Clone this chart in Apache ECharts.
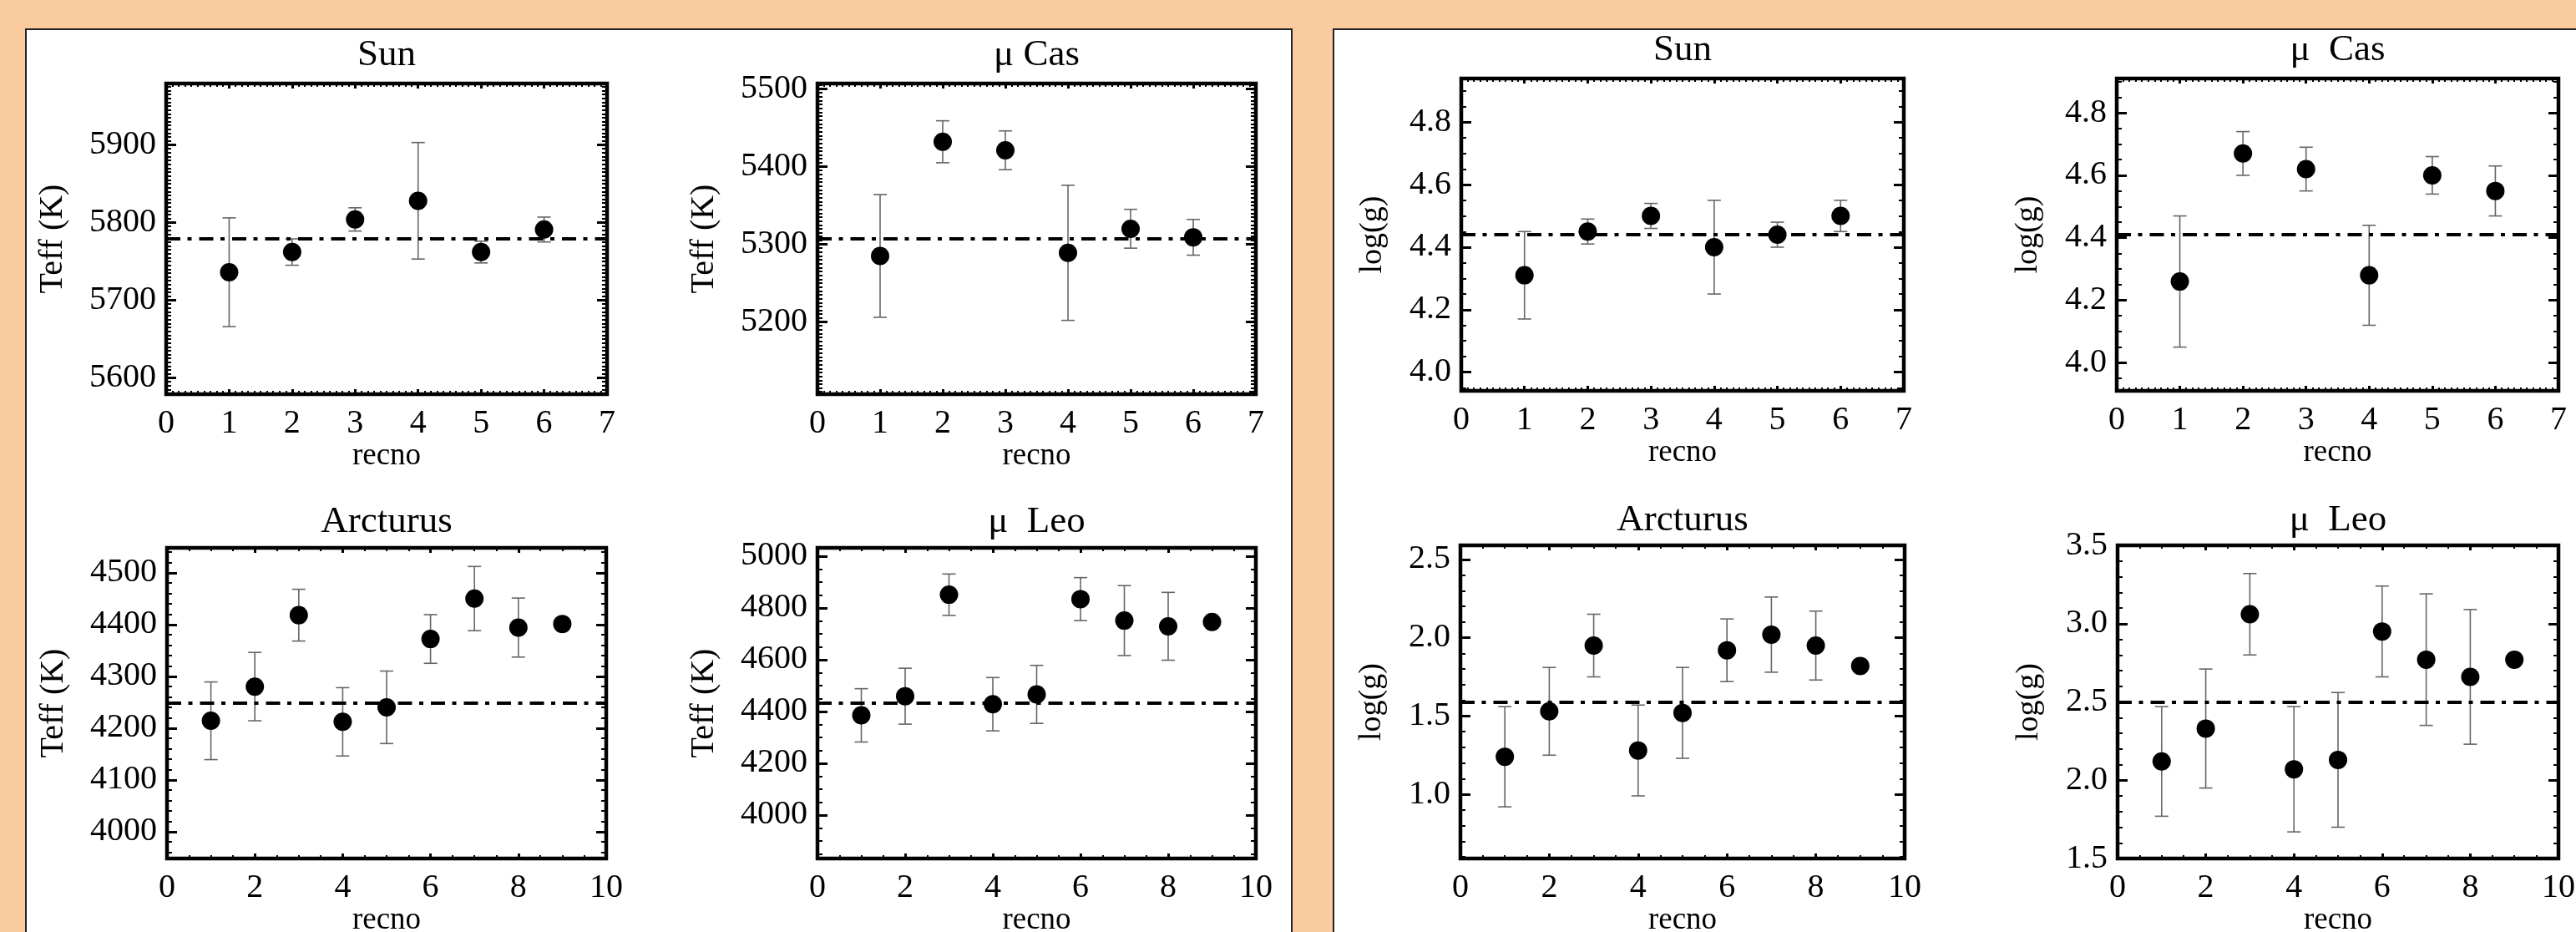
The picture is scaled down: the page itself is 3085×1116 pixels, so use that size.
<!DOCTYPE html>
<html>
<head>
<meta charset="utf-8">
<script src="https://cdn.jsdelivr.net/npm/echarts@6/dist/echarts.min.js"></script>
<style>
  html, body { margin: 0; padding: 0; background: #f9cb9f; }
  #chart { width: 3085px; height: 1116px; }
</style>
</head>
<body>
<div id="chart"></div>
<script>
// ---------------- DATA ----------------
const starNames = ['Sun', 'μ Cas', 'Arcturus', 'μ  Leo'];
const starNamesLogg = ['Sun', 'μ  Cas', 'Arcturus', 'μ  Leo'];

const recno6 = [1, 2, 3, 4, 5, 6];
const recno9 = [1, 2, 3, 4, 5, 6, 7, 8, 9];

// Teff (K)
const teffSun      = [5736, 5762, 5804, 5828, 5762, 5791];
const teffSunErr   = [70, 17, 15, 75, 14, 16];
const teffMuCas    = [5285, 5432, 5421, 5289, 5320, 5309];
const teffMuCasErr = [79, 27, 25, 87, 25, 23];
const teffArct     = [4214, 4280, 4418, 4212, 4240, 4372, 4450, 4394, 4401];
const teffArctErr  = [75, 66, 50, 66, 70, 47, 62, 57, null];
const teffMuLeo    = [4385, 4459, 4851, 4428, 4466, 4834, 4751, 4729, 4746];
const teffMuLeoErr = [103, 108, 80, 103, 112, 83, 135, 131, null];
const teffRef      = [5779, 5307, 4248, 4432];
const teffRange    = [[5579, 5979], [5107, 5507], [3948, 4548], [3832, 5032]];

// log(g)
const loggSun      = [4.31, 4.45, 4.50, 4.40, 4.44, 4.50];
const loggSunErr   = [0.14, 0.04, 0.04, 0.15, 0.04, 0.05];
const loggMuCas    = [4.26, 4.67, 4.62, 4.28, 4.60, 4.55];
const loggMuCasErr = [0.21, 0.07, 0.07, 0.16, 0.06, 0.08];
const loggArct     = [1.24, 1.53, 1.95, 1.28, 1.52, 1.92, 2.02, 1.95, 1.82];
const loggArctErr  = [0.32, 0.28, 0.20, 0.29, 0.29, 0.20, 0.24, 0.22, null];
const loggMuLeo    = [2.12, 2.33, 3.06, 2.07, 2.13, 2.95, 2.77, 2.66, 2.77];
const loggMuLeoErr = [0.35, 0.38, 0.26, 0.40, 0.43, 0.29, 0.42, 0.43, null];
const loggRef      = [4.44, 4.41, 1.59, 2.50];
const loggRange    = [[3.94, 4.94], [3.91, 4.91], [0.59, 2.59], [1.50, 3.50]];

// tick labels
const xTicks7 = [0, 1, 2, 3, 4, 5, 6, 7];
const xTicks10 = [0, 2, 4, 6, 8, 10];
const teffTicksSun = [5600, 5700, 5800, 5900];
const teffTicksMuCas = [5200, 5300, 5400, 5500];
const teffTicksArct = [4000, 4100, 4200, 4300, 4400, 4500];
const teffTicksMuLeo = [4000, 4200, 4400, 4600, 4800, 5000];
const loggTicksSun = [4.0, 4.2, 4.4, 4.6, 4.8];
const loggTicksMuCas = [4.0, 4.2, 4.4, 4.6, 4.8];
const loggTicksArct = [1.0, 1.5, 2.0, 2.5];
const loggTicksMuLeo = [1.5, 2.0, 2.5, 3.0, 3.5];

// ---------------- LAYOUT / STYLE ----------------
const FONT = 'Liberation Serif';
const panels = [
  { title: starNames[0], yName: 'Teff (K)', x: recno6, y: teffSun, err: teffSunErr, ref: teffRef[0], yr: teffRange[0], yTicks: teffTicksSun, yMinor: 5, xTicks: xTicks7, xMinor: 0.1, xMax: 7, dec: 0,
    grid: { left: 199, top: 100, width: 528, height: 372 }, titleY: 44, nameGap: 116, nameSize: 40 },
  { title: starNames[1], yName: 'Teff (K)', x: recno6, y: teffMuCas, err: teffMuCasErr, ref: teffRef[1], yr: teffRange[1], yTicks: teffTicksMuCas, yMinor: 5, xTicks: xTicks7, xMinor: 0.1, xMax: 7, dec: 0,
    grid: { left: 979, top: 100, width: 525, height: 372 }, titleY: 44, nameGap: 116, nameSize: 40 },
  { title: starNames[2], yName: 'Teff (K)', x: recno9, y: teffArct, err: teffArctErr, ref: teffRef[2], yr: teffRange[2], yTicks: teffTicksArct, yMinor: 20, xTicks: xTicks10, xMinor: 0.5, xMax: 10, dec: 0,
    grid: { left: 200, top: 656, width: 526, height: 372 }, titleY: 603, nameGap: 116, nameSize: 40 },
  { title: starNames[3], yName: 'Teff (K)', x: recno9, y: teffMuLeo, err: teffMuLeoErr, ref: teffRef[3], yr: teffRange[3], yTicks: teffTicksMuLeo, yMinor: 50, xTicks: xTicks10, xMinor: 0.5, xMax: 10, dec: 0,
    grid: { left: 979, top: 656, width: 525, height: 372 }, titleY: 603, nameGap: 116, nameSize: 40 },
  { title: starNamesLogg[0], yName: 'log(g)', x: recno6, y: loggSun, err: loggSunErr, ref: loggRef[0], yr: loggRange[0], yTicks: loggTicksSun, yMinor: 0.05, xTicks: xTicks7, xMinor: 0.1, xMax: 7, dec: 1,
    grid: { left: 1750, top: 94, width: 530, height: 374 }, titleY: 38, nameGap: 87, nameSize: 38 },
  { title: starNamesLogg[1], yName: 'log(g)', x: recno6, y: loggMuCas, err: loggMuCasErr, ref: loggRef[1], yr: loggRange[1], yTicks: loggTicksMuCas, yMinor: 0.05, xTicks: xTicks7, xMinor: 0.1, xMax: 7, dec: 1,
    grid: { left: 2535, top: 94, width: 529, height: 374 }, titleY: 38, nameGap: 87, nameSize: 38 },
  { title: starNamesLogg[2], yName: 'log(g)', x: recno9, y: loggArct, err: loggArctErr, ref: loggRef[2], yr: loggRange[2], yTicks: loggTicksArct, yMinor: 0.1, xTicks: xTicks10, xMinor: 0.5, xMax: 10, dec: 1,
    grid: { left: 1749, top: 653, width: 532, height: 375 }, titleY: 601, nameGap: 87, nameSize: 38 },
  { title: starNamesLogg[3], yName: 'log(g)', x: recno9, y: loggMuLeo, err: loggMuLeoErr, ref: loggRef[3], yr: loggRange[3], yTicks: loggTicksMuLeo, yMinor: 0.1, xTicks: xTicks10, xMinor: 0.5, xMax: 10, dec: 1,
    grid: { left: 2536, top: 653, width: 528, height: 375 }, titleY: 601, nameGap: 87, nameSize: 38 }
];

function stepsIn(min, max, step) {
  const out = [];
  const s = Math.ceil(min / step - 1e-9), e = Math.floor(max / step + 1e-9);
  for (let i = s; i <= e; i++) out.push(+(i * step).toFixed(6));
  return out;
}

function mkAxis(gi, pos, min, max, ticks, len, width, extra) {
  return Object.assign({
    gridIndex: gi, type: 'value', position: pos, min: min, max: max,
    axisLine: { show: false, onZero: false },
    splitLine: { show: false },
    axisTick: { show: true, inside: true, length: len, customValues: ticks,
                lineStyle: { color: '#000', width: width } },
    axisLabel: { show: false }
  }, extra || {});
}

const grids = [], xAxes = [], yAxes = [], series = [], titles = [];
panels.forEach((p, i) => {
  grids.push(Object.assign({ show: true, borderColor: '#000', borderWidth: 4.5, backgroundColor: 'transparent',
    containLabel: false, outerBoundsMode: 'none' }, p.grid));
  const xMin = 0, xMax = p.xMax;
  const xMinorTicks = stepsIn(xMin, xMax, p.xMinor);
  const yMinorTicks = stepsIn(p.yr[0], p.yr[1], p.yMinor);
  const labelStyle = { fontFamily: FONT, fontSize: 40, color: '#000' };
  // x axes
  xAxes.push(mkAxis(i, 'bottom', xMin, xMax, p.xTicks, 6, 3, {
    axisLabel: Object.assign({ show: true, customValues: p.xTicks, margin: 15, formatter: v => String(v) }, labelStyle),
    name: 'recno', nameLocation: 'middle', nameGap: 54,
    nameTextStyle: { fontFamily: FONT, fontSize: 37, color: '#000' }
  }));
  xAxes.push(mkAxis(i, 'bottom', xMin, xMax, xMinorTicks, 4, 2));
  xAxes.push(mkAxis(i, 'top', xMin, xMax, p.xTicks, 6, 3));
  xAxes.push(mkAxis(i, 'top', xMin, xMax, xMinorTicks, 4, 2));
  // y axes
  const dec = p.dec;
  yAxes.push(mkAxis(i, 'left', p.yr[0], p.yr[1], p.yTicks, 12, 3, {
    axisLabel: Object.assign({ show: true, customValues: p.yTicks, margin: 12, formatter: v => Number(v).toFixed(dec) }, labelStyle),
    name: p.yName, nameLocation: 'middle', nameGap: p.nameGap, nameRotate: 90,
    nameTextStyle: { fontFamily: FONT, fontSize: p.nameSize, color: '#000' }
  }));
  yAxes.push(mkAxis(i, 'left', p.yr[0], p.yr[1], yMinorTicks, 6, 2));
  yAxes.push(mkAxis(i, 'right', p.yr[0], p.yr[1], p.yTicks, 12, 3));
  yAxes.push(mkAxis(i, 'right', p.yr[0], p.yr[1], yMinorTicks, 6, 2));

  const errData = [];
  p.x.forEach((xv, k) => {
    if (p.err[k] != null) errData.push([xv, p.y[k] - p.err[k], p.y[k] + p.err[k]]);
  });
  series.push({
    type: 'custom', xAxisIndex: 4 * i, yAxisIndex: 4 * i, z: 2, silent: true,
    data: errData, encode: { x: 0, y: [1, 2] },
    renderItem: function (params, api) {
      const xv = api.value(0);
      const top = api.coord([xv, api.value(2)]);
      const bot = api.coord([xv, api.value(1)]);
      const hw = 8;
      const st = { stroke: '#666', lineWidth: 1.6 };
      return { type: 'group', children: [
        { type: 'line', shape: { x1: top[0], y1: top[1], x2: bot[0], y2: bot[1] }, style: st },
        { type: 'line', shape: { x1: top[0] - hw, y1: top[1], x2: top[0] + hw, y2: top[1] }, style: st },
        { type: 'line', shape: { x1: bot[0] - hw, y1: bot[1], x2: bot[0] + hw, y2: bot[1] }, style: st }
      ] };
    }
  });
  series.push({
    type: 'scatter', xAxisIndex: 4 * i, yAxisIndex: 4 * i, z: 3,
    symbol: 'circle', symbolSize: 22,
    itemStyle: { color: '#000', opacity: 1 },
    emphasis: { disabled: true },
    data: p.x.map((xv, k) => [xv, p.y[k]]),
    markLine: {
      silent: true, symbol: ['none', 'none'], label: { show: false },
      lineStyle: { color: '#000', width: 4, opacity: 1, type: [17, 8.5, 5, 9] },
      data: [{ yAxis: p.ref }]
    }
  });
  titles.push({
    text: p.title, left: p.grid.left + p.grid.width / 2, top: p.titleY, textAlign: 'center', padding: 0,
    textStyle: { fontFamily: FONT, fontSize: 45, fontWeight: 'normal', color: '#000' }
  });
});

const chart = echarts.init(document.getElementById('chart'), null, { renderer: 'canvas' });
chart.setOption({
  animation: false,
  backgroundColor: '#f9cb9f',
  textStyle: { fontFamily: FONT },
  title: titles,
  graphic: [
    { type: 'rect', z: -10, shape: { x: 31, y: 35, width: 1516, height: 1100 },
      style: { fill: '#fff', stroke: '#222', lineWidth: 2 } },
    { type: 'rect', z: -10, shape: { x: 1597, y: 35, width: 1500, height: 1100 },
      style: { fill: '#fff', stroke: '#222', lineWidth: 2 } }
  ],
  grid: grids,
  xAxis: xAxes,
  yAxis: yAxes,
  series: series
});
</script>
</body>
</html>
